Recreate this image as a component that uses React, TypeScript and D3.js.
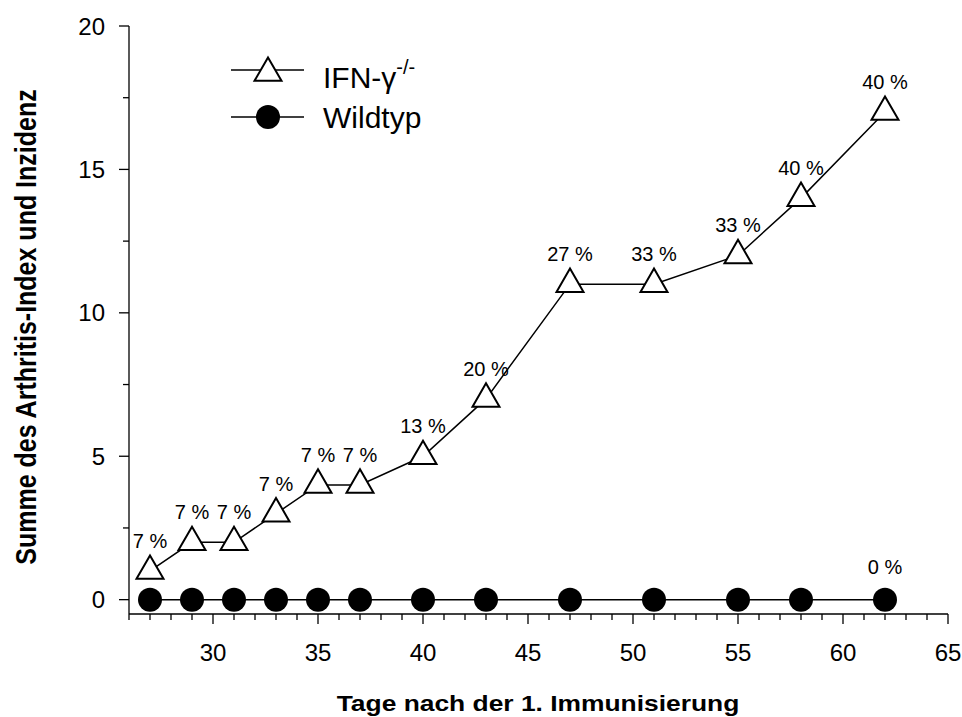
import React from "react";
import * as d3 from "d3";

const days = [27, 29, 31, 33, 35, 37, 40, 43, 47, 51, 55, 58, 62];
const ifnValues = [1, 2, 2, 3, 4, 4, 5, 7, 11, 11, 12, 14, 17];
const ifnIncidence = ["7 %", "7 %", "7 %", "7 %", "7 %", "7 %", "13 %", "20 %", "27 %", "33 %", "33 %", "40 %", "40 %"];
const wildValues = [0, 0, 0, 0, 0, 0, 0, 0, 0, 0, 0, 0, 0];
const wildLastLabel = "0 %";
const xTickLabels = [30, 35, 40, 45, 50, 55, 60, 65];
const yTickLabels = [0, 5, 10, 15, 20];

const W = 962;
const H = 717;
const FONT = "Arial, 'Liberation Sans', Helvetica, sans-serif";

export default function App() {
  const x = d3.scaleLinear().domain([26, 65]).range([129, 948]);
  const y = d3.scaleLinear().domain([-0.5, 20]).range([614, 26]);
  const x0 = x(26);
  const y0 = y(-0.5);

  const xMinor = d3.range(26, 65.001, 1);
  const yMinor = d3.range(0, 20.001, 2.5);

  const line = d3
    .line<[number, number]>()
    .x((d) => x(d[0]))
    .y((d) => y(d[1]));

  const ifnPts: [number, number][] = days.map((d, i) => [d, ifnValues[i]]);
  const wildPts: [number, number][] = days.map((d, i) => [d, wildValues[i]]);

  const triSide = 27;
  const triH = (triSide * Math.sqrt(3)) / 2;
  const triPath = `M0,${-(2 * triH) / 3}L${triSide / 2},${triH / 3}L${-triSide / 2},${triH / 3}Z`;

  return (
    <div style={{ position: "absolute", left: 0, top: 0 }}>
      <svg width={W} height={H} style={{ display: "block", background: "#fff" }} fontFamily={FONT}>
        {/* axes */}
        <line x1={x0} x2={x0} y1={y(20)} y2={y0} stroke="#000" strokeWidth={1.3} />
        <line x1={x0} x2={x(65)} y1={y0} y2={y0} stroke="#000" strokeWidth={1.3} />
        {yMinor.map((v) => {
          const major = v % 5 === 0;
          return (
            <line key={"yt" + v} x1={x0 - (major ? 10 : 6)} x2={x0} y1={y(v)} y2={y(v)} stroke="#000" strokeWidth={1.3} />
          );
        })}
        {xMinor.map((v) => {
          const major = v % 5 === 0;
          return (
            <line key={"xt" + v} x1={x(v)} x2={x(v)} y1={y0} y2={y0 + (major ? 10 : 6)} stroke="#000" strokeWidth={1.3} />
          );
        })}
        {yTickLabels.map((v) => (
          <text key={"yl" + v} x={105} y={y(v)} dy="0.36em" textAnchor="end" fontSize={24} fill="#000">
            {v}
          </text>
        ))}
        {xTickLabels.map((v) => (
          <text key={"xl" + v} x={x(v)} y={661} textAnchor="middle" fontSize={24} fill="#000">
            {v}
          </text>
        ))}
        {/* axis titles */}
        <text
          transform="translate(538,711) scale(1.2,1)"
          textAnchor="middle"
          fontSize={22}
          fontWeight="bold"
          fill="#000"
        >
          Tage nach der 1. Immunisierung
        </text>
        <text
          transform="translate(36,327) rotate(-90) scale(1,1.2)"
          textAnchor="middle"
          fontSize={25}
          fontWeight="bold"
          fill="#000"
        >
          Summe des Arthritis-Index und Inzidenz
        </text>

        {/* series lines */}
        <path d={line(wildPts) || ""} fill="none" stroke="#000" strokeWidth={1.5} />
        <path d={line(ifnPts) || ""} fill="none" stroke="#000" strokeWidth={1.5} />

        {/* markers */}
        {wildPts.map((p, i) => (
          <circle key={"c" + i} cx={x(p[0])} cy={y(p[1])} r={12} fill="#000" />
        ))}
        {ifnPts.map((p, i) => (
          <path
            key={"t" + i}
            d={triPath}
            transform={`translate(${x(p[0])},${y(p[1])})`}
            fill="#fff"
            stroke="#000"
            strokeWidth={2}
          />
        ))}

        {/* incidence labels */}
        {ifnPts.map((p, i) => (
          <text key={"pl" + i} x={x(p[0])} y={y(p[1]) - 23} textAnchor="middle" fontSize={20} fill="#000">
            {ifnIncidence[i]}
          </text>
        ))}
        <text x={x(days[days.length - 1])} y={y(0) - 26} textAnchor="middle" fontSize={20} fill="#000">
          {wildLastLabel}
        </text>

        {/* legend */}
        <line x1={231} x2={304} y1={70} y2={70} stroke="#000" strokeWidth={1.5} />
        <path d={triPath} transform="translate(268,73)" fill="#fff" stroke="#000" strokeWidth={2} />
        <text x={323} y={88} fontSize={30} fill="#000">
          IFN-γ
          <tspan fontSize={20} dy={-14}>-/-</tspan>
        </text>
        <line x1={231} x2={304} y1={117} y2={117} stroke="#000" strokeWidth={1.5} />
        <circle cx={268} cy={117} r={12} fill="#000" />
        <text x={323} y={128} fontSize={30} fill="#000">
          Wildtyp
        </text>
      </svg>
    </div>
  );
}
